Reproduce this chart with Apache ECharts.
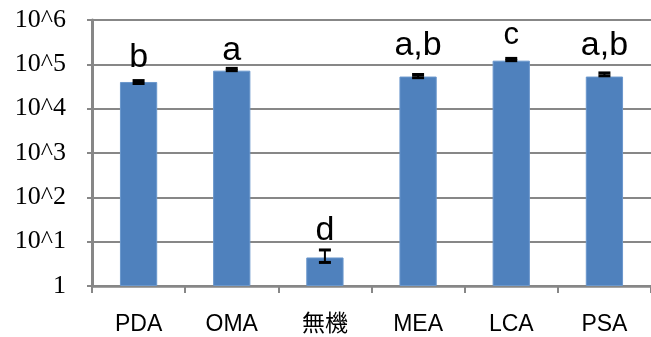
<!DOCTYPE html>
<html>
<head>
<meta charset="utf-8">
<script src="https://cdn.jsdelivr.net/npm/echarts@6/dist/echarts.min.js"></script>
<style>
  html, body { margin: 0; padding: 0; background: #fff; }
  #chart { width: 651px; height: 337px; }
</style>
</head>
<body>
<div id="chart"></div>
<script>
// Groups on the horizontal axis
const categories = ['PDA', 'OMA', '無機', 'MEA', 'LCA', 'PSA'];
// Mean counts per group (log scale)
const means = [40000, 72000, 4.4, 53000, 121000, 53000];
// Error bar ends
const errLow = [37000, 72000, 3.4, 50000, 121000, 55000];
const errHigh = [43000, 81000, 6.5, 59000, 136000, 64000];
// Significance letters above each bar
const letters = ['b', 'a', 'd', 'a,b', 'c', 'a,b'];
// Tick labels of the log axis, one per decade
const tickLabels = ['1', '10^1', '10^2', '10^3', '10^4', '10^5', '10^6'];

// Letter styling: gap above the bar top and font size
const letterGap = [7, 3, 10, 14, 10, 14];
const letterSize = [34, 34, 34, 34, 31, 34];

const chart = echarts.init(document.getElementById('chart'), null, { renderer: 'canvas' });

const gridColor = '#878787';

const option = {
  animation: false,
  backgroundColor: '#ffffff',
  grid: { left: 92, right: -5, top: 20, bottom: 51, containLabel: false },
  xAxis: {
    type: 'category',
    data: categories,
    boundaryGap: true,
    axisLine: { show: true, lineStyle: { color: gridColor, width: 2.5 } },
    axisTick: { show: true, length: 7, lineStyle: { color: gridColor, width: 2 } },
    axisLabel: {
      margin: 27,
      fontSize: 23,
      color: '#000',
      fontFamily: '"Liberation Sans", "Noto Sans CJK JP", sans-serif'
    }
  },
  yAxis: {
    type: 'log',
    logBase: 10,
    min: 1,
    max: 1000000,
    splitNumber: 6,
    axisLine: { show: true, lineStyle: { color: gridColor, width: 3 } },
    axisTick: { show: true, length: 5, lineStyle: { color: gridColor, width: 2 } },
    splitLine: { show: true, lineStyle: { color: gridColor, width: 2 } },
    axisLabel: {
      margin: 26,
      fontSize: 26,
      color: '#000',
      fontFamily: '"Liberation Serif", "DejaVu Serif", serif',
      formatter: function (v) {
        const e = Math.round(Math.log10(v));
        return tickLabels[e] !== undefined ? tickLabels[e] : '';
      }
    }
  },
  series: [
    {
      type: 'bar',
      barWidth: '40%',
      itemStyle: { color: '#4f81bd', borderColor: '#6a97cc', borderWidth: 1 },
      data: means.map(function (v, i) {
        return {
          value: v,
          label: {
            show: true,
            position: 'top',
            distance: letterGap[i],
            formatter: letters[i],
            fontSize: letterSize[i],
            color: '#000',
            fontFamily: '"Liberation Sans", "Noto Sans", sans-serif'
          }
        };
      }),
      z: 2
    },
    {
      type: 'custom',
      z: 5,
      encode: { x: 0, y: [1, 2] },
      data: categories.map(function (c, i) { return [i, errLow[i], errHigh[i]]; }),
      renderItem: function (params, api) {
        const lo = api.coord([api.value(0), api.value(1)]);
        const hi = api.coord([api.value(0), api.value(2)]);
        const half = 6;
        const style = { stroke: '#000', lineWidth: 3 };
        return {
          type: 'group',
          children: [
            { type: 'line', shape: { x1: hi[0], y1: hi[1], x2: lo[0], y2: lo[1] }, style: { stroke: '#000', lineWidth: 2 } },
            { type: 'line', shape: { x1: hi[0] - half, y1: hi[1], x2: hi[0] + half, y2: hi[1] }, style: style },
            { type: 'line', shape: { x1: lo[0] - half, y1: lo[1], x2: lo[0] + half, y2: lo[1] }, style: style }
          ]
        };
      }
    }
  ]
};

chart.setOption(option);
</script>
</body>
</html>
